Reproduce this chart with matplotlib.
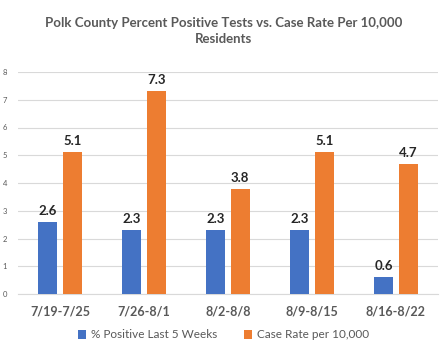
import matplotlib
matplotlib.use("Agg")
import matplotlib.pyplot as plt
import numpy as np

categories = ["7/19-7/25", "7/26-8/1", "8/2-8/8", "8/9-8/15", "8/16-8/22"]
pct_positive = [2.6, 2.3, 2.3, 2.3, 0.6]
case_rate = [5.1, 7.3, 3.8, 5.1, 4.7]
series_names = ["% Positive Last 5 Weeks", "Case Rate per 10,000"]

plt.rcParams['font.family'] = ['Lato', 'DejaVu Sans']
fig = plt.figure(figsize=(4.47, 3.5), dpi=100)
ax = fig.add_axes([18/447, 1-294/350, 420/447, 222/350])

x = np.arange(len(categories))
w = 0.226
off = 0.145
b1 = ax.bar(x - off, pct_positive, w, color="#4472C4", label=series_names[0], zorder=3)
b2 = ax.bar(x + off, case_rate, w, color="#ED7D31", label=series_names[1], zorder=3)

for bars in (b1, b2):
    for r in bars:
        ax.text(r.get_x() + r.get_width()/2, r.get_height() + 0.18, f"{r.get_height():.1f}",
                ha="center", va="bottom", fontsize=9.5, fontweight="bold", color="#262626")

ax.set_xlim(-0.5, len(categories) - 0.5)
ax.set_ylim(0, 8)
ax.set_yticks(range(0, 9))
ax.yaxis.grid(True, color="#D9D9D9", linewidth=0.8, zorder=0)
for s in ax.spines.values():
    s.set_visible(False)
ax.spines['bottom'].set_visible(True)
ax.spines['bottom'].set_color("#D9D9D9")
ax.tick_params(axis='y', length=0, labelsize=5.5, labelcolor="#595959", pad=8)
ax.tick_params(axis='x', length=0, labelsize=9, labelcolor="#595959", pad=8)
ax.set_xticks(x)
ax.set_xticklabels(categories, fontweight="bold")

fig.text(0.5, 1-31/350, "Polk County Percent Positive Tests vs. Case Rate Per 10,000\nResidents",
         ha="center", va="center", fontsize=9.5, fontweight="bold", color="#595959", linespacing=1.45)

leg = fig.legend(handles=[b1, b2], loc="center", bbox_to_anchor=(0.5, 1-335/350), ncol=2,
                 frameon=False, fontsize=8.5, handlelength=0.7, handleheight=0.7,
                 columnspacing=2.3, handletextpad=0.4)
for t in leg.get_texts():
    t.set_color("#595959")

fig.savefig("out.png", dpi=100)
